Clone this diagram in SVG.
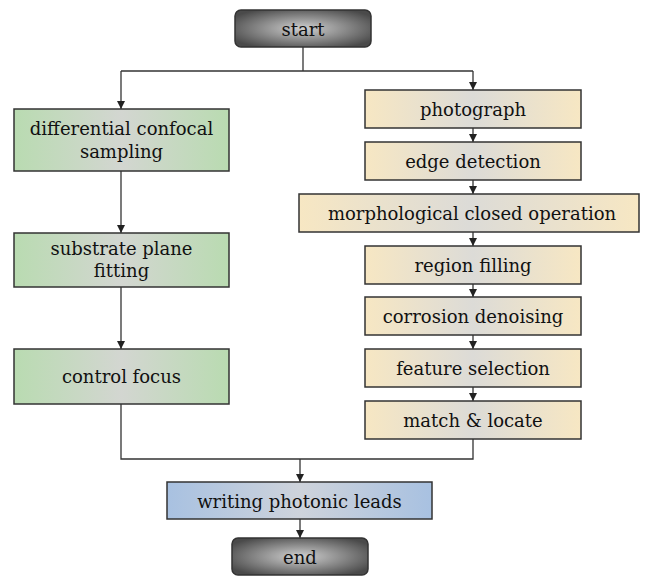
<svg xmlns="http://www.w3.org/2000/svg" width="653" height="577" viewBox="0 0 653 577">
<defs>
<linearGradient id="gGreen" x1="0" y1="0" x2="1" y2="0">
<stop offset="0" stop-color="#b9dbb1"/><stop offset="0.5" stop-color="#d3d6d1"/><stop offset="1" stop-color="#b9dbb1"/>
</linearGradient>
<linearGradient id="gBeige" x1="0" y1="0" x2="1" y2="0">
<stop offset="0" stop-color="#f7e7c3"/><stop offset="0.5" stop-color="#dcdbd7"/><stop offset="1" stop-color="#f7e7c3"/>
</linearGradient>
<linearGradient id="gBlue" x1="0" y1="0" x2="1" y2="0">
<stop offset="0" stop-color="#a8c1e1"/><stop offset="0.5" stop-color="#ced3db"/><stop offset="1" stop-color="#a8c1e1"/>
</linearGradient>
<radialGradient id="gGray" cx="0.5" cy="0.5" r="0.6">
<stop offset="0" stop-color="#d0d0d0"/><stop offset="1" stop-color="#4a4a4a"/>
</radialGradient>
<marker id="arr" viewBox="0 0 10 10" refX="10" refY="5" markerWidth="8" markerHeight="8" markerUnits="userSpaceOnUse" orient="auto">
<path d="M0,0 L10,5 L0,10 Z" fill="#222"/>
</marker>
</defs>
<style>
.box{stroke:#333;stroke-width:1.5}
.g{fill:url(#gGreen)}
.b{fill:url(#gBeige)}
.bl{fill:url(#gBlue)}
.gr{fill:url(#gGray)}
text{font-family:"DejaVu Serif","Liberation Serif",serif;font-size:18px;fill:#111;text-anchor:middle}
.c{fill:none;stroke:#333;stroke-width:1.3}
</style>
<g id="connectors">
<path class="c" d="M303,47 V71"/>
<path class="c" d="M121,71 H473"/>
<path class="c" d="M121,71 V109" marker-end="url(#arr)"/>
<path class="c" d="M473,71 V90" marker-end="url(#arr)"/>
<path class="c" d="M121,171 V233" marker-end="url(#arr)"/>
<path class="c" d="M121,287 V349" marker-end="url(#arr)"/>
<path class="c" d="M473,128 V142" marker-end="url(#arr)"/>
<path class="c" d="M473,180 V194" marker-end="url(#arr)"/>
<path class="c" d="M473,232 V246" marker-end="url(#arr)"/>
<path class="c" d="M473,284 V297" marker-end="url(#arr)"/>
<path class="c" d="M473,335 V349" marker-end="url(#arr)"/>
<path class="c" d="M473,387 V401" marker-end="url(#arr)"/>
<path class="c" d="M121,404 V459 H473 V439"/>
<path class="c" d="M300,459 V482" marker-end="url(#arr)"/>
<path class="c" d="M300,519 V538" marker-end="url(#arr)"/>
</g>
<g id="start"><rect class="box gr" x="235" y="10" width="136" height="37" rx="6"/><text x="303" y="36">start</text></g>
<g id="dcs"><rect class="box g" x="14" y="109" width="215" height="62"/><text x="121.5" y="135">differential confocal</text><text x="121.5" y="158">sampling</text></g>
<g id="spf"><rect class="box g" x="14" y="233" width="215" height="54"/><text x="121.5" y="255">substrate plane</text><text x="121.5" y="277">fitting</text></g>
<g id="cf"><rect class="box g" x="14" y="349" width="215" height="55"/><text x="121.5" y="383">control focus</text></g>
<g id="photo"><rect class="box b" x="365" y="90" width="216" height="38"/><text x="473" y="116">photograph</text></g>
<g id="edge"><rect class="box b" x="365" y="142" width="216" height="38"/><text x="473" y="168">edge detection</text></g>
<g id="morph"><rect class="box b" x="299" y="194" width="340" height="38"/><text x="472" y="220">morphological closed operation</text></g>
<g id="region"><rect class="box b" x="365" y="246" width="216" height="38"/><text x="473" y="272">region filling</text></g>
<g id="corr"><rect class="box b" x="365" y="297" width="216" height="38"/><text x="473" y="323">corrosion denoising</text></g>
<g id="feat"><rect class="box b" x="365" y="349" width="216" height="38"/><text x="473" y="375">feature selection</text></g>
<g id="match"><rect class="box b" x="365" y="401" width="216" height="38"/><text x="473" y="427">match &amp; locate</text></g>
<g id="write"><rect class="box bl" x="167" y="482" width="265" height="37"/><text x="299.5" y="508">writing photonic leads</text></g>
<g id="end"><rect class="box gr" x="232" y="538" width="136" height="37" rx="6"/><text x="300" y="564">end</text></g>
</svg>
